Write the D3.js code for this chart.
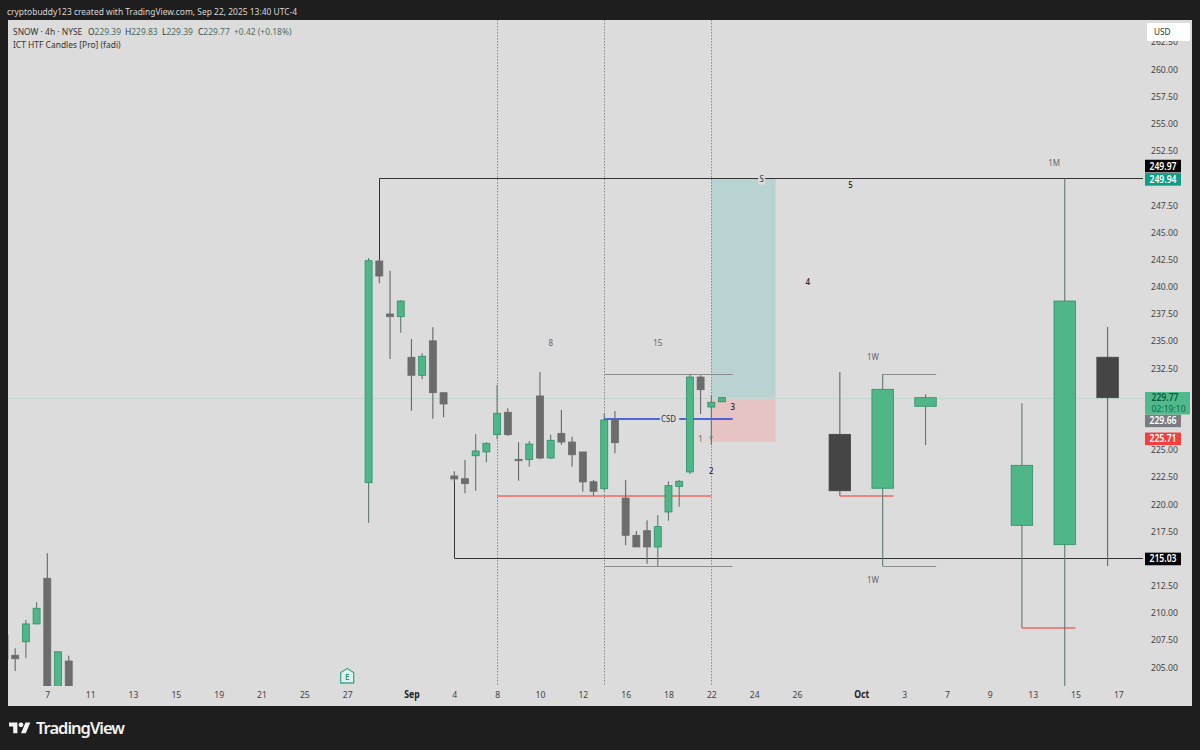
<!DOCTYPE html>
<html>
<head>
<meta charset="utf-8">
<script src="https://d3js.org/d3.v7.min.js"></script>
<style>
  html, body { margin: 0; padding: 0; background: #1e1e1e; }
  svg { display: block; }
  text { font-family: "Noto Sans", sans-serif; }
</style>
</head>
<body>
<svg id="chart" width="1200" height="750"></svg>
<script>
// 4h candles, bar number on the x axis
var barIdx = [-4,-3,-2,-1,0,1,2,30,31,32,33,34,35,36,37,38,39,40,41,42,43,44,45,46,47,48,49,50,51,52,53,54,55,56,57,58,59,60,61,62,63];
var open4h = [207.9,206.08,207.32,208.96,213.16,202,205.55,221.95,242.34,237.47,237.22,233.49,231.83,235.0,230.23,222.57,222.32,224.43,224.78,226.37,228.43,224.1,224.07,229.93,224.22,226.49,225.69,224.78,222.04,221.4,227.78,220.54,217.11,217.54,216.04,219.26,221.62,222.94,231.67,228.91,229.39];
var high4h = [208.2,206.72,209.32,210.95,215.46,206.4,206.04,242.62,242.5,241.45,238.75,235.17,233.85,236.24,230.23,223.0,224.04,226.43,225.67,230.94,228.79,225.67,225.78,232.13,226.37,228.64,226.18,224.78,222.2,228.34,228.55,222.2,217.51,218.49,218.98,222.08,222.2,231.92,231.83,230.02,229.83];
var low4h = [205.7,204.63,205.8,208.96,202,202,202,218.27,240.29,233.33,235.75,228.57,231.46,227.84,227.97,222.0,220.98,221.22,223.83,225.94,226.25,222.14,223.43,224.1,224.16,225.45,223.43,221.12,220.76,221.22,224.66,216.19,216.04,214.5,214.29,218.46,219.74,222.75,228.27,225.42,229.39];
var close4h = [205.7,205.76,208.96,210.4,202,206.4,202,242.37,240.96,237.22,238.66,231.83,233.58,230.23,229.19,222.3,221.86,224.87,225.57,228.34,226.37,223.97,225.51,224.22,225.85,225.69,224.52,222.02,221.16,227.72,225.63,217.11,216.04,216.04,217.91,221.68,222.08,231.67,230.5,229.35,229.77];

// higher timeframe candles on the right
var htfIdx = [74,78,82,91,95,99];
var htfOpen = [226.4,221.44,228.98,218.03,216.25,233.49];
var htfHigh = [232.13,231.92,230.08,229.25,249.93,236.27];
var htfLow = [220.75,214.29,225.42,208.6,203,214.29];
var htfClose = [221.21,230.54,229.77,223.55,238.66,229.77];

// time axis
var timeTickIdx = [0,4,8,12,16,20,24,28,34,38,42,46,50,54,58,62,66,70,76,80,84,88,92,96,100];
var timeTickLabels = ["7","11","13","15","19","21","25","27","Sep","4","8","10","12","16","18","22","24","26","Oct","3","7","9","13","15","17"];
// price axis, the levels behind the tags do not show
var priceTicks = [262.5,260,257.5,255,252.5,247.5,245,242.5,240,237.5,235,232.5,225,222.5,220,217.5,212.5,210,207.5,205];

// session separators
var sessionIdx = [42,52,62];

// drawings
var longZone = [62,68,249.94,229.77];
var shortZone = [62,68,229.77,225.71];
var redLevels = [[42,62,220.77],[74,79,220.75],[91,96,208.6]];
var grayLevels = [[52,64,231.92],[52,64,214.29],[78,83,231.92],[78,83,214.29]];
var csdSegments = [[52,57.2],[59,64]];
var csdPrice = 227.81;
var blackIdx = [31,38];
var blackFrom = [242.34,222.5];
var blackTo = [249.94,215.03];
var noteText = ["8","15","S","CSD","1W","1W","1M","1","Y"];
var noteIdx = [47,57,66.7,58,77.1,77.1,94,61,61.96];
var notePrice = [234.8,234.8,249.94,227.81,233.5,213.0,251.35,225.97,225.97];
var countText = ["5","4","3","2"];
var countIdx = [75,71,64,62];
var countPrice = [249.35,240.4,228.95,223.05];

// price tags
var tagValues = ["249.97","249.94","229.66","225.71","215.03"];
var tagPrices = [249.97,249.94,229.66,225.71,215.03];
var tagShift = [-12,1,22,-3,1];
var tagFill = ["#050505","#0f9d88","#7b7b80","#f23f3f","#050505"];

var svg = d3.select("#chart");
var x = d3.scaleLinear().domain([0,100]).range([47.3,1118.3]);
var y = d3.scaleLinear().domain([260,205]).range([69,667]);
var plotLeft = 8, plotRight = 1192, plotTop = 20, plotBottom = 706, axisX = 1143, axisY = 686;
var green = "#4fb688", greenEdge = "#2f8f69", gray = "#6c6c6c", htfDark = "#454545";

// keep thin lines on one pixel
function snap(v) { return Math.round(v)+0.5; }

svg.append("rect").attr("width",1200).attr("height",750).attr("fill","#1e1e1e");
svg.append("rect").attr("x",plotLeft).attr("y",plotTop).attr("width",plotRight-plotLeft).attr("height",plotBottom-plotTop).attr("fill","#dcdcdc");

var defs = svg.append("defs");
defs.append("clipPath").attr("id","pane").append("rect")
  .attr("x",plotLeft).attr("y",plotTop).attr("width",axisX-plotLeft).attr("height",axisY-plotTop);
var g = svg.append("g").attr("clip-path","url(#pane)");

// zones
function zone(z, fill) {
  g.append("rect").attr("x",x(z[0])).attr("width",x(z[1])-x(z[0]))
    .attr("y",y(z[2])).attr("height",y(z[3])-y(z[2])).attr("fill",fill);
}
zone(longZone,"#b9d2d2");
zone(shortZone,"#e6c4c3");

// last price line
g.append("line").attr("x1",plotLeft).attr("x2",axisX).attr("y1",snap(y(229.77))).attr("y2",snap(y(229.77)))
  .attr("stroke","#c6d6cf").attr("stroke-width",1);

// session separators
g.selectAll(".sep").data(sessionIdx).enter().append("line").attr("class","sep")
  .attr("x1",function(d){return snap(x(d));}).attr("x2",function(d){return snap(x(d));})
  .attr("y1",plotTop).attr("y2",axisY)
  .attr("stroke","#8c8c8c").attr("stroke-dasharray","1.5 1.5");

// level lines, coloured ones sit across two pixel rows so the colour survives the photo
function levels(cls, rows, color, w, rowFn) {
  g.selectAll("."+cls).data(rows).enter().append("line").attr("class",cls)
    .attr("x1",function(d){return x(d[0]);}).attr("x2",function(d){return x(d[1]);})
    .attr("y1",function(d){return rowFn(y(d[2]));}).attr("y2",function(d){return rowFn(y(d[2]));})
    .attr("stroke",color).attr("stroke-width",w);
}
levels("lvlred",redLevels,"#ee6a64",1.4,Math.round);
levels("lvlgray",grayLevels,"#8e8e8e",1,snap);
g.selectAll(".csd").data(csdSegments).enter().append("line").attr("class","csd")
  .attr("x1",function(d){return x(d[0]);}).attr("x2",function(d){return x(d[1]);})
  .attr("y1",Math.round(y(csdPrice))).attr("y2",Math.round(y(csdPrice)))
  .attr("stroke","#1f3fd8").attr("stroke-width",1.4);

// sweep lines up and across to the axis
blackIdx.forEach(function(b,i){
  g.append("path")
    .attr("d",d3.line()([[snap(x(b)),y(blackFrom[i])],[snap(x(b)),snap(y(blackTo[i]))],[axisX,snap(y(blackTo[i]))]]))
    .attr("fill","none").attr("stroke","#333").attr("stroke-width",1);
});

// candles
function drawCandles(idx, o, h, l, c, w, down, cls) {
  var data = idx.map(function(d,i){return {i:d,o:o[i],h:h[i],l:l[i],c:c[i]};});
  var gs = g.selectAll("."+cls).data(data).enter().append("g").attr("class",cls);
  gs.append("line")
    .attr("x1",function(d){return x(d.i);}).attr("x2",function(d){return x(d.i);})
    .attr("y1",function(d){return y(d.h);}).attr("y2",function(d){return y(d.l);})
    .attr("stroke",function(d){return d.c>=d.o ? "#5f7a70" : "#666";})
    .attr("stroke-width",1.1);
  gs.append("rect")
    .attr("x",function(d){return x(d.i)-w/2;}).attr("width",w)
    .attr("y",function(d){return y(Math.max(d.o,d.c));})
    .attr("height",function(d){return Math.abs(y(d.o)-y(d.c));})
    .attr("fill",function(d){return d.c>=d.o ? green : down;})
    .attr("stroke",function(d){return d.c>=d.o ? greenEdge : down;})
    .attr("stroke-width",0.8);
}
drawCandles(barIdx,open4h,high4h,low4h,close4h,7,gray,"c4h");
drawCandles(htfIdx,htfOpen,htfHigh,htfLow,htfClose,21.5,htfDark,"htf");

// small labels
g.selectAll(".note").data(noteText).enter().append("text").attr("class","note")
  .attr("x",function(d,i){return x(noteIdx[i]);}).attr("y",function(d,i){return y(notePrice[i]);})
  .attr("dy","0.35em").attr("text-anchor","middle").attr("font-size",function(d){return d=="Y"?7:9;})
  .attr("fill",function(d){return d=="S"||d=="CSD"?"#333":"#666";}).text(function(d){return d;})
  .each(function(d){
    if (d=="S") {
      // line breaks around the S
      var b = this.getBBox();
      g.insert("rect",".note").attr("x",b.x-1).attr("y",b.y).attr("width",b.width+2).attr("height",b.height).attr("fill","#dcdcdc");
    }
  });
g.selectAll(".count").data(countText).enter().append("text").attr("class","count")
  .attr("x",function(d,i){return x(countIdx[i]);}).attr("y",function(d,i){return y(countPrice[i]);})
  .attr("dy","0.35em").attr("text-anchor","middle").attr("font-size",9).attr("font-weight",500)
  .attr("fill","#222").text(function(d){return d;});

// earnings mark
var earn = g.append("g").attr("transform","translate("+x(28)+",676)");
earn.append("path").attr("d","M-6.5,-3.5 L0,-7.5 L6.5,-3.5 L6.5,7 L-6.5,7 Z").attr("fill","#e3efea").attr("stroke","#3fa98a").attr("stroke-width",1.3).attr("stroke-linejoin","round");
earn.append("text").attr("y",3.6).attr("text-anchor","middle").attr("font-size",9).attr("font-weight",600).attr("fill","#2f8f75").text("E");

// axes
var timeAxis = d3.axisBottom(x).tickValues(timeTickIdx).tickSize(0).tickPadding(5)
  .tickFormat(function(d,i){return timeTickLabels[i];});
var tg = svg.append("g").attr("transform","translate(0,"+axisY+")").call(timeAxis);
tg.select(".domain").remove();
tg.selectAll("text").attr("font-size",9.8).style("font-family","'Noto Sans',sans-serif")
  .attr("font-weight",function(d,i){return (timeTickLabels[i]=="Sep"||timeTickLabels[i]=="Oct")?700:400;})
  .attr("fill",function(d,i){return (timeTickLabels[i]=="Sep"||timeTickLabels[i]=="Oct")?"#222":"#444";});

var priceAxis = d3.axisRight(y).tickValues(priceTicks).tickSize(0).tickPadding(0).tickFormat(d3.format(".2f"));
var pg = svg.append("g").attr("transform","translate(1151,0)").call(priceAxis);
pg.select(".domain").remove();
pg.selectAll("text").attr("font-size",9.8).attr("fill","#444").style("font-family","'Noto Sans',sans-serif");

// USD box
svg.append("rect").attr("x",1147).attr("y",23).attr("width",43).attr("height",18).attr("fill","#fff").attr("rx",1);
svg.append("text").attr("x",1154).attr("y",35).attr("font-size",9.4).attr("fill","#333").text("USD");

// price tags
tagValues.forEach(function(t,i){
  var cy = y(tagPrices[i])+tagShift[i];
  svg.append("rect").attr("x",1145).attr("y",cy-6.3).attr("width",36).attr("height",12.6).attr("fill",tagFill[i]);
  svg.append("text").attr("x",1163).attr("y",cy).attr("dy","0.36em").attr("text-anchor","middle")
    .attr("font-size",9.8).attr("font-weight",600).attr("fill","#fff").text(t);
});
// current price tag with countdown
svg.append("rect").attr("x",1145).attr("y",392).attr("width",45).attr("height",22.5).attr("fill","#51b98c");
svg.append("text").attr("x",1151.5).attr("y",y(229.77)+3).attr("font-size",9.8).attr("font-weight",600).attr("fill","#0b5d3e").text("229.77");
svg.append("text").attr("x",1151.5).attr("y",412).attr("font-size",9.8).attr("fill","#0f6a48").text("02:19:10");

// header and legend
svg.append("text").attr("x",7).attr("y",15).attr("font-size",9.6).attr("fill","#d8d8d8")
  .text("cryptobuddy123 created with TradingView.com, Sep 22, 2025 13:40 UTC-4");
svg.append("text").attr("x",13).attr("y",35).attr("font-size",9.6).attr("fill","#333").text("SNOW · 4h · NYSE");
svg.append("text").attr("x",13).attr("y",48).attr("font-size",9.6).attr("fill","#333").text("ICT HTF Candles [Pro] (fadi)");
var legendLabels = ["O","H","L","C"];
var legendValues = ["229.39","229.83","229.39","229.77"];
var legendX = [88,125,162,198];
legendLabels.forEach(function(l,i){
  var t = svg.append("text").attr("x",legendX[i]).attr("y",35).attr("font-size",9.6).attr("fill","#333").text(l);
  t.append("tspan").attr("fill","#4b6f62").text(legendValues[i]);
});
svg.append("text").attr("x",234).attr("y",35).attr("font-size",9.6).attr("fill","#4b6f62").text("+0.42 (+0.18%)");

// the original type runs narrower than Noto Sans
svg.selectAll("text").each(function(){
  this.setAttribute("textLength", this.getComputedTextLength()*0.88);
  this.setAttribute("lengthAdjust","spacingAndGlyphs");
});

// footer logo
var logo = svg.append("g").attr("transform","translate(9,720) scale(0.6)").attr("fill","#f2f2f2");
logo.append("path").attr("d","M14 22H7V11H0V4h14v18zM28 22h-8l7.5-18h8L28 22z");
logo.append("circle").attr("cx",20).attr("cy",8).attr("r",4);
svg.append("text").attr("x",36).attr("y",734).attr("font-size",16.5).attr("font-weight",600).attr("fill","#f2f2f2").attr("textLength",89).text("TradingView");
</script>
</body>
</html>
